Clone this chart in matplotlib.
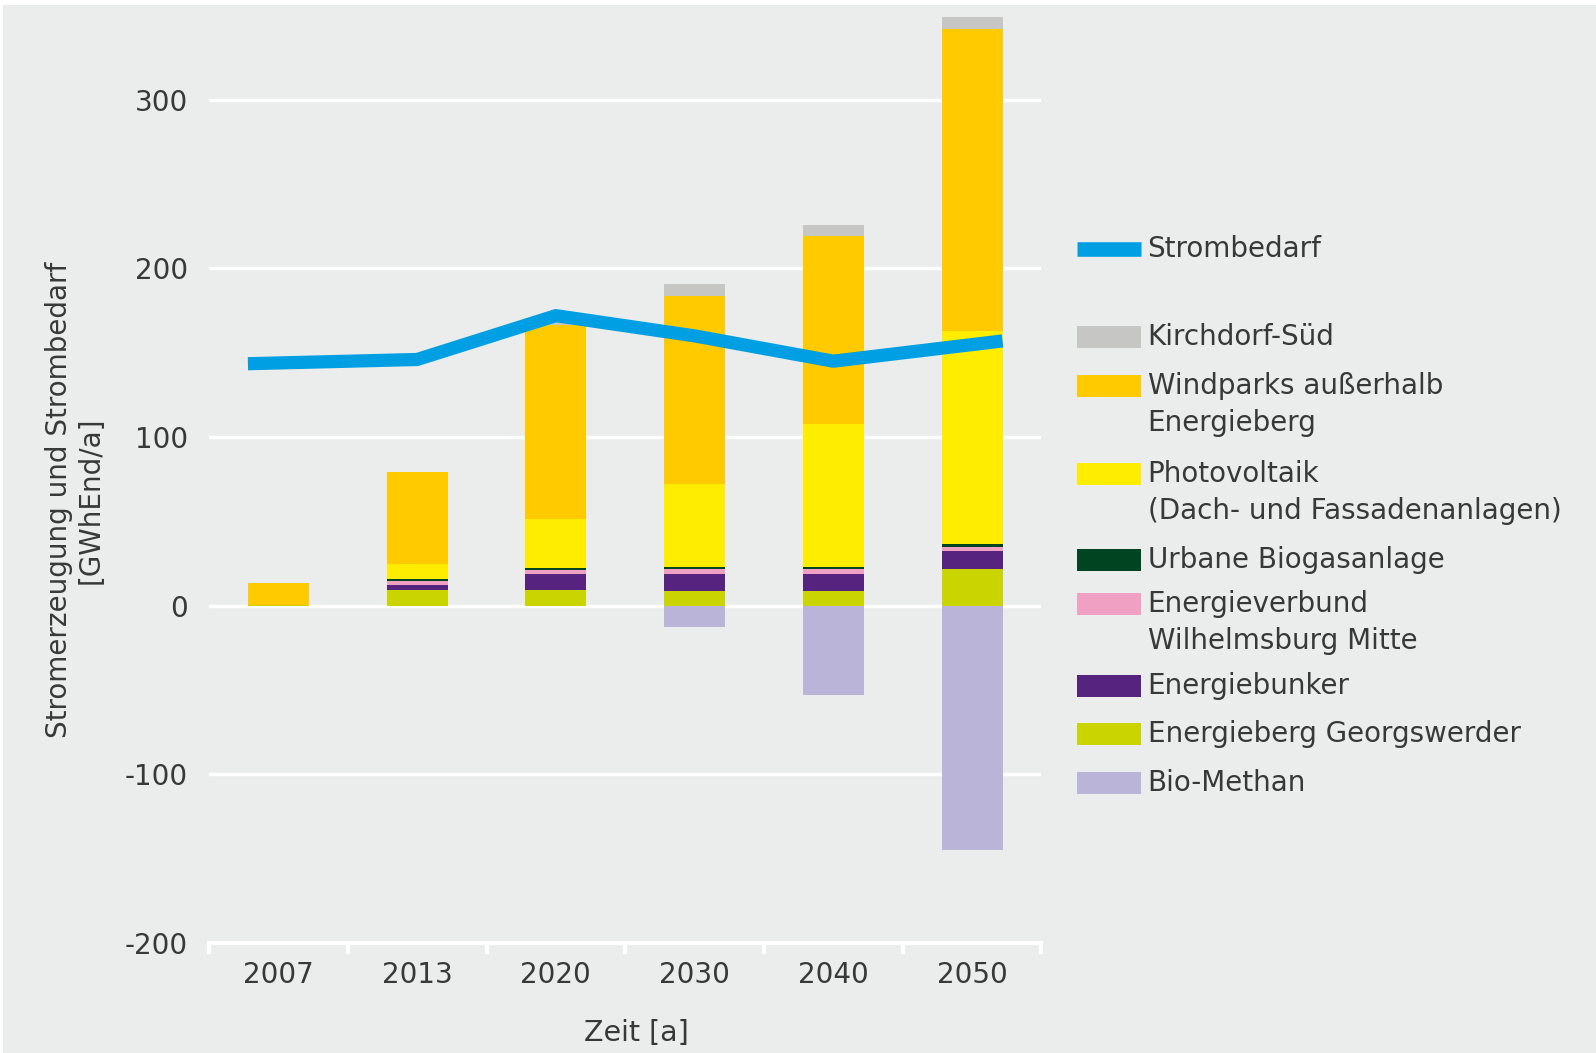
import matplotlib.pyplot as plt
from matplotlib.patches import Rectangle
from matplotlib.lines import Line2D
import numpy as np

plt.rcParams['font.family'] = ['DejaVu Sans']
plt.rcParams['axes.unicode_minus'] = False

jahre = ['2007', '2013', '2020', '2030', '2040', '2050']

# Stromerzeugung je Anlage [GWhEnd/a]
bio_methan = [0, 0, 0, -12.5, -53, -145]
georgswerder = [0.5, 9.5, 9.5, 9, 9, 22]
energiebunker = [0, 2.5, 9, 9.5, 9.5, 10.5]
energieverbund = [0, 2.5, 2.5, 3, 3, 2.5]
urbane_biogas = [0, 1.5, 1.5, 1.5, 1.5, 1.5]
photovoltaik = [0, 9, 29, 49, 84.5, 126.5]
windparks = [13, 54, 115, 111.5, 112, 179]
kirchdorf = [0, 0, 1.5, 7, 6, 7]

strombedarf = [143.5, 146, 172, 160, 145, 157]

farben = {
    'Kirchdorf-Süd': '#c6c6c5',
    'Windparks außerhalb\nEnergieberg': '#ffcb00',
    'Photovoltaik\n(Dach- und Fassadenanlagen)': '#ffed00',
    'Urbane Biogasanlage': '#004422',
    'Energieverbund\nWilhelmsburg Mitte': '#efa0c3',
    'Energiebunker': '#56237f',
    'Energieberg Georgswerder': '#c9d400',
    'Bio-Methan': '#bab4d8',
}
blau = '#009fe3'
hg = '#ebedec'
textfarbe = '#383838'

fig = plt.figure(figsize=(15.96, 10.53), dpi=100, facecolor='white')
fig.add_artist(Rectangle((3 / 1596, 0), 1, 1 - 5 / 1053, transform=fig.transFigure,
                         facecolor=hg, edgecolor='none', zorder=-10))
ax = fig.add_axes([0.131, 0.1045, 0.5215, 0.884])
ax.patch.set_alpha(0)

x = np.arange(len(jahre))
b = 0.44

# positive Stapel
stapel = [
    (georgswerder, 'Energieberg Georgswerder'),
    (energiebunker, 'Energiebunker'),
    (energieverbund, 'Energieverbund\nWilhelmsburg Mitte'),
    (urbane_biogas, 'Urbane Biogasanlage'),
    (photovoltaik, 'Photovoltaik\n(Dach- und Fassadenanlagen)'),
    (windparks, 'Windparks außerhalb\nEnergieberg'),
    (kirchdorf, 'Kirchdorf-Süd'),
]
unten = np.zeros(len(jahre))
for werte, name in stapel:
    ax.bar(x, werte, b, bottom=unten, color=farben[name], zorder=2, linewidth=0)
    unten += np.array(werte)
ax.bar(x, bio_methan, b, color=farben['Bio-Methan'], zorder=2, linewidth=0)

# Linie reicht an den Enden bis zum Balkenrand
x_linie = x.astype(float)
x_linie[0] -= b / 2
x_linie[-1] += b / 2
ax.plot(x_linie, strombedarf, color=blau, linewidth=9.5, zorder=3, solid_capstyle='butt')

ax.set_xlim(-0.5, 5.5)
ax.set_ylim(-200, 352)
ax.set_yticks([-200, -100, 0, 100, 200, 300])
ax.grid(axis='y', color='white', linewidth=2.5, zorder=1)
ax.set_axisbelow(True)
for s in ['top', 'right', 'left']:
    ax.spines[s].set_visible(False)
ax.spines['bottom'].set_color('white')
ax.spines['bottom'].set_linewidth(3)

ax.set_xticks(x)
ax.set_xticklabels(jahre)
ax.set_xticks(np.arange(-0.5, 6, 1), minor=True)
ax.tick_params(axis='x', which='major', length=0, pad=13, labelsize=20, labelcolor=textfarbe)
ax.tick_params(axis='x', which='minor', length=8, width=3, color='white', direction='out')
ax.tick_params(axis='y', length=0, pad=15, labelsize=20, labelcolor=textfarbe)

fig.text(0.047, 0.525, 'Stromerzeugung und Strombedarf\n[GWhEnd/a]', rotation=90,
         ha='center', va='center', fontsize=20, color=textfarbe, linespacing=1.15)
fig.text(0.399, 0.019, 'Zeit [a]', ha='center', va='center', fontsize=20.5, color=textfarbe)

# Legende
H = 1053
def fy(py):
    return 1 - py / H

x0, x1, xt = 0.675, 0.715, 0.719
fig.add_artist(Line2D([x0, x1], [fy(249), fy(249)], transform=fig.transFigure,
                      color=blau, linewidth=10.5, solid_capstyle='butt'))
fig.text(xt, fy(249), 'Strombedarf', ha='left', va='center', fontsize=20, color=textfarbe)

eintraege = [
    ('Kirchdorf-Süd', 337),
    ('Windparks außerhalb\nEnergieberg', 386),
    ('Photovoltaik\n(Dach- und Fassadenanlagen)', 474),
    ('Urbane Biogasanlage', 560),
    ('Energieverbund\nWilhelmsburg Mitte', 604),
    ('Energiebunker', 686),
    ('Energieberg Georgswerder', 734),
    ('Bio-Methan', 783),
]
ph = 22 / H
for name, py in eintraege:
    fig.add_artist(Rectangle((x0, fy(py) - ph / 2), x1 - x0, ph, transform=fig.transFigure,
                             facecolor=farben[name], edgecolor='none'))
    for i, zeile in enumerate(name.split('\n')):
        fig.text(xt, fy(py + i * 37), zeile, ha='left', va='center', fontsize=20, color=textfarbe)

fig.savefig('out.png', dpi=100, facecolor=fig.get_facecolor())
